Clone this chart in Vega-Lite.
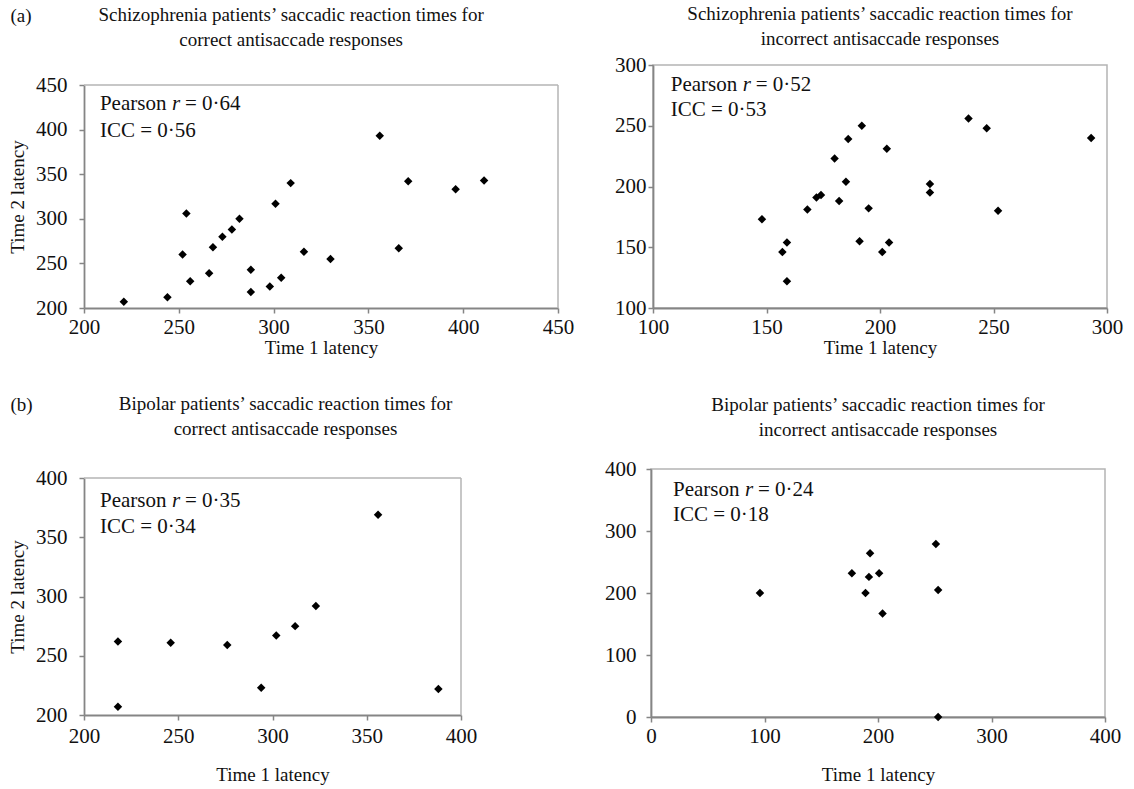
{
  "$schema": "https://vega.github.io/schema/vega-lite/v6.json",
  "background": "white",
  "padding": {"left": 8, "top": 4, "right": 0, "bottom": 0},
  "config": {
    "font": "Liberation Serif",
    "view": {"stroke": "#b4b4b4", "strokeWidth": 1.5},
    "axis": {"grid": false, "domainColor": "#858585", "domainWidth": 1.8, "tickColor": "#858585", "tickWidth": 1.5, "tickSize": 5, "labelFont": "Liberation Serif", "labelFontSize": 21, "labelColor": "#111", "titleFont": "Liberation Serif", "titleFontSize": 19, "titleFontWeight": "normal", "titleColor": "#111", "labelFlush": false, "labelOverlap": false},
    "title": {"font": "Liberation Serif", "fontSize": 19, "fontWeight": "normal", "color": "#111", "lineHeight": 25},
    "point": {"shape": "diamond", "filled": true, "color": "black", "size": 72, "opacity": 1},
    "text": {"font": "Liberation Serif", "fontSize": 21, "align": "left", "baseline": "middle", "color": "#111"},
    "rule": {"color": "#b4b4b4", "strokeWidth": 1.5}
  },
  "datasets": {
    "p1": [
      {"t1": 221, "t2": 207}, {"t1": 244, "t2": 212}, {"t1": 254, "t2": 306}, {"t1": 252, "t2": 260},
      {"t1": 256, "t2": 230}, {"t1": 266, "t2": 239}, {"t1": 268, "t2": 268}, {"t1": 273, "t2": 280},
      {"t1": 278, "t2": 288}, {"t1": 282, "t2": 300}, {"t1": 288, "t2": 218}, {"t1": 288, "t2": 243},
      {"t1": 298, "t2": 224}, {"t1": 301, "t2": 317}, {"t1": 304, "t2": 234}, {"t1": 309, "t2": 340},
      {"t1": 316, "t2": 263}, {"t1": 330, "t2": 255}, {"t1": 356, "t2": 393}, {"t1": 366, "t2": 267},
      {"t1": 371, "t2": 342}, {"t1": 396, "t2": 333}, {"t1": 411, "t2": 343}
    ],
    "p2": [
      {"t1": 148, "t2": 173}, {"t1": 157, "t2": 146}, {"t1": 159, "t2": 154}, {"t1": 159, "t2": 122},
      {"t1": 168, "t2": 181}, {"t1": 172, "t2": 191}, {"t1": 174, "t2": 193}, {"t1": 180, "t2": 223},
      {"t1": 182, "t2": 188}, {"t1": 185, "t2": 204}, {"t1": 186, "t2": 239}, {"t1": 191, "t2": 155},
      {"t1": 192, "t2": 250}, {"t1": 195, "t2": 182}, {"t1": 201, "t2": 146}, {"t1": 203, "t2": 231},
      {"t1": 204, "t2": 154}, {"t1": 222, "t2": 202}, {"t1": 222, "t2": 195}, {"t1": 239, "t2": 256},
      {"t1": 247, "t2": 248}, {"t1": 252, "t2": 180}, {"t1": 293, "t2": 240}
    ],
    "p3": [
      {"t1": 218, "t2": 262}, {"t1": 218, "t2": 207}, {"t1": 246, "t2": 261}, {"t1": 276, "t2": 259},
      {"t1": 294, "t2": 223}, {"t1": 302, "t2": 267}, {"t1": 312, "t2": 275}, {"t1": 323, "t2": 292},
      {"t1": 356, "t2": 369}, {"t1": 388, "t2": 222}
    ],
    "p4": [
      {"t1": 96, "t2": 200}, {"t1": 177, "t2": 232}, {"t1": 193, "t2": 264}, {"t1": 192, "t2": 226},
      {"t1": 201, "t2": 232}, {"t1": 189, "t2": 200}, {"t1": 204, "t2": 167}, {"t1": 251, "t2": 279},
      {"t1": 253, "t2": 205}, {"t1": 253, "t2": 0}
    ]
  },
  "spacing": 37,
  "vconcat": [
    {
      "title": {"text": "(a)", "anchor": "start", "frame": "bounds", "font": "Liberation Serif", "fontSize": 19, "offset": 0, "dy": 22, "dx": 2},
      "spacing": 39,
      "hconcat": [
        {
          "width": 474, "height": 243,
          "view": {"stroke": null},
          "title": {"text": ["Schizophrenia patients’ saccadic reaction times for", "correct antisaccade responses"], "offset": 15, "frame": "bounds"},
          "layer": [
            {"data": {"values": [{}]}, "mark": "rule",
             "encoding": {"x": {"datum": 200, "type": "quantitative", "scale": {"domain": [200, 450], "nice": false, "zero": false}}, "x2": {"datum": 450}, "y": {"datum": 450, "type": "quantitative", "scale": {"domain": [200, 450], "nice": false, "zero": false, "range": [243, 20]}}}},
            {"data": {"values": [{}]}, "mark": "rule",
             "encoding": {"x": {"datum": 450, "type": "quantitative"}, "y": {"datum": 200, "type": "quantitative"}, "y2": {"datum": 450}}},
            {"data": {"name": "p1"}, "mark": "point",
             "encoding": {
               "x": {"field": "t1", "type": "quantitative", "scale": {"domain": [200, 450], "nice": false, "zero": false}, "axis": {"values": [200, 250, 300, 350, 400, 450], "title": "Time 1 latency", "labelPadding": 3, "titlePadding": 1}},
               "y": {"field": "t2", "type": "quantitative", "scale": {"domain": [200, 450], "nice": false, "zero": false, "range": [243, 20]}, "axis": {"values": [200, 250, 300, 350, 400, 450], "title": "Time 2 latency", "labelPadding": 12, "titlePadding": 8}}}},
            {"data": {"values": [{}]}, "mark": "text",
             "encoding": {"x": {"datum": 208.4, "type": "quantitative"}, "y": {"datum": 429, "type": "quantitative"}, "text": {"value": "Pearson"}}},
            {"data": {"values": [{}]}, "mark": {"type": "text", "fontStyle": "italic", "dx": 72},
             "encoding": {"x": {"datum": 208.4, "type": "quantitative"}, "y": {"datum": 429, "type": "quantitative"}, "text": {"value": "r"}}},
            {"data": {"values": [{}]}, "mark": {"type": "text", "dx": 85},
             "encoding": {"x": {"datum": 208.4, "type": "quantitative"}, "y": {"datum": 429, "type": "quantitative"}, "text": {"value": "= 0·64"}}},
            {"data": {"values": [{}]}, "mark": "text",
             "encoding": {"x": {"datum": 208.4, "type": "quantitative"}, "y": {"datum": 398.5, "type": "quantitative"}, "text": {"value": "ICC = 0·56"}}}
          ]
        },
        {
          "width": 454, "height": 243,
          "title": {"text": ["Schizophrenia patients’ saccadic reaction times for", "incorrect antisaccade responses"], "offset": 5},
          "layer": [
            {"data": {"name": "p2"}, "mark": "point",
             "encoding": {
               "x": {"field": "t1", "type": "quantitative", "scale": {"domain": [100, 300], "nice": false, "zero": false}, "axis": {"values": [100, 150, 200, 250, 300], "title": "Time 1 latency", "labelPadding": 3, "titlePadding": 1}},
               "y": {"field": "t2", "type": "quantitative", "scale": {"domain": [100, 300], "nice": false, "zero": false}, "axis": {"values": [100, 150, 200, 250, 300], "title": null, "labelPadding": 2}}}},
            {"data": {"values": [{}]}, "mark": "text",
             "encoding": {"x": {"datum": 107.8, "type": "quantitative"}, "y": {"datum": 283.6, "type": "quantitative"}, "text": {"value": "Pearson"}}},
            {"data": {"values": [{}]}, "mark": {"type": "text", "fontStyle": "italic", "dx": 72},
             "encoding": {"x": {"datum": 107.8, "type": "quantitative"}, "y": {"datum": 283.6, "type": "quantitative"}, "text": {"value": "r"}}},
            {"data": {"values": [{}]}, "mark": {"type": "text", "dx": 85},
             "encoding": {"x": {"datum": 107.8, "type": "quantitative"}, "y": {"datum": 283.6, "type": "quantitative"}, "text": {"value": "= 0·52"}}},
            {"data": {"values": [{}]}, "mark": "text",
             "encoding": {"x": {"datum": 107.8, "type": "quantitative"}, "y": {"datum": 263.1, "type": "quantitative"}, "text": {"value": "ICC = 0·53"}}}
          ]
        }
      ]
    },
    {
      "title": {"text": "(b)", "anchor": "start", "frame": "bounds", "font": "Liberation Serif", "fontSize": 19, "offset": 0, "dy": 20, "dx": 2},
      "spacing": 126,
      "hconcat": [
        {
          "width": 377, "height": 246,
          "view": {"stroke": null},
          "title": {"text": ["Bipolar patients’ saccadic reaction times for", "correct antisaccade responses"], "offset": 28, "dx": 13},
          "layer": [
            {"data": {"values": [{}]}, "mark": "rule",
             "encoding": {"x": {"datum": 200, "type": "quantitative", "scale": {"domain": [200, 400], "nice": false, "zero": false}}, "x2": {"datum": 400}, "y": {"datum": 400, "type": "quantitative", "scale": {"domain": [200, 400], "nice": false, "zero": false, "range": [246, 9]}}}},
            {"data": {"values": [{}]}, "mark": "rule",
             "encoding": {"x": {"datum": 400, "type": "quantitative"}, "y": {"datum": 200, "type": "quantitative"}, "y2": {"datum": 400}}},
            {"data": {"name": "p3"}, "mark": "point",
             "encoding": {
               "x": {"field": "t1", "type": "quantitative", "scale": {"domain": [200, 400], "nice": false, "zero": false}, "axis": {"values": [200, 250, 300, 350, 400], "title": "Time 1 latency", "labelPadding": 5, "titlePadding": 19}},
               "y": {"field": "t2", "type": "quantitative", "scale": {"domain": [200, 400], "nice": false, "zero": false, "range": [246, 9]}, "axis": {"values": [200, 250, 300, 350, 400], "title": "Time 2 latency", "labelPadding": 12, "titlePadding": 8}}}},
            {"data": {"values": [{}]}, "mark": "text",
             "encoding": {"x": {"datum": 208.5, "type": "quantitative"}, "y": {"datum": 380.2, "type": "quantitative"}, "text": {"value": "Pearson"}}},
            {"data": {"values": [{}]}, "mark": {"type": "text", "fontStyle": "italic", "dx": 72},
             "encoding": {"x": {"datum": 208.5, "type": "quantitative"}, "y": {"datum": 380.2, "type": "quantitative"}, "text": {"value": "r"}}},
            {"data": {"values": [{}]}, "mark": {"type": "text", "dx": 85},
             "encoding": {"x": {"datum": 208.5, "type": "quantitative"}, "y": {"datum": 380.2, "type": "quantitative"}, "text": {"value": "= 0·35"}}},
            {"data": {"values": [{}]}, "mark": "text",
             "encoding": {"x": {"datum": 208.5, "type": "quantitative"}, "y": {"datum": 358.6, "type": "quantitative"}, "text": {"value": "ICC = 0·34"}}}
          ]
        },
        {
          "width": 454, "height": 248,
          "title": {"text": ["Bipolar patients’ saccadic reaction times for", "incorrect antisaccade responses"], "offset": 18},
          "layer": [
            {"data": {"name": "p4"}, "mark": "point",
             "encoding": {
               "x": {"field": "t1", "type": "quantitative", "scale": {"domain": [0, 400], "nice": false, "zero": false}, "axis": {"values": [0, 100, 200, 300, 400], "title": "Time 1 latency", "labelPadding": 3, "titlePadding": 19}},
               "y": {"field": "t2", "type": "quantitative", "scale": {"domain": [0, 400], "nice": false, "zero": false}, "axis": {"values": [0, 100, 200, 300, 400], "title": null, "labelPadding": 10}}}},
            {"data": {"values": [{}]}, "mark": "text",
             "encoding": {"x": {"datum": 19.4, "type": "quantitative"}, "y": {"datum": 365.6, "type": "quantitative"}, "text": {"value": "Pearson"}}},
            {"data": {"values": [{}]}, "mark": {"type": "text", "fontStyle": "italic", "dx": 72},
             "encoding": {"x": {"datum": 19.4, "type": "quantitative"}, "y": {"datum": 365.6, "type": "quantitative"}, "text": {"value": "r"}}},
            {"data": {"values": [{}]}, "mark": {"type": "text", "dx": 85},
             "encoding": {"x": {"datum": 19.4, "type": "quantitative"}, "y": {"datum": 365.6, "type": "quantitative"}, "text": {"value": "= 0·24"}}},
            {"data": {"values": [{}]}, "mark": "text",
             "encoding": {"x": {"datum": 19.4, "type": "quantitative"}, "y": {"datum": 326.3, "type": "quantitative"}, "text": {"value": "ICC = 0·18"}}}
          ]
        }
      ]
    }
  ]
}
